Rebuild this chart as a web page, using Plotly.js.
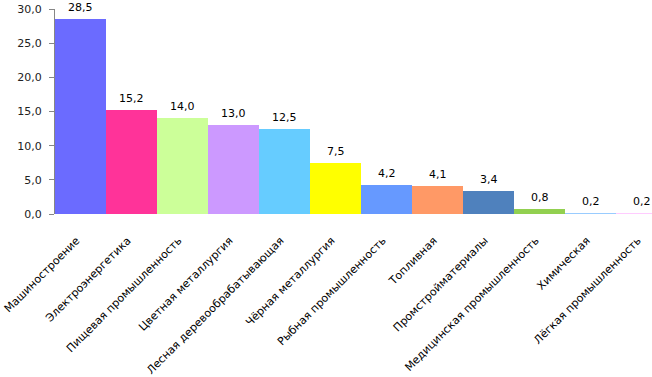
<!DOCTYPE html>
<html><head><meta charset="utf-8">
<script src="https://cdn.plot.ly/plotly-3.0.1.min.js"></script>
<style>html,body{margin:0;padding:0;overflow:hidden;background:#fff}</style>
</head><body>
<div id="chart" style="width:652px;height:377px"></div>
<script>
const categories = ["Машиностроение","Электроэнергетика","Пищевая промышленность","Цветная металлургия","Лесная деревообрабатывающая","Чёрная металлургия","Рыбная промышленность","Топливная","Промстройматериалы","Медицинская промышленность","Химическая","Лёгкая промышленность"];
const values = [28.5,15.2,14.0,13.0,12.5,7.5,4.2,4.1,3.4,0.8,0.2,0.2];
const colors = ["#6B6BFF","#FF3399","#CCFF99","#CC99FF","#66CCFF","#FFFF00","#6699FF","#FF9966","#4F81BD","#92D050","#99CCFF","#FFCCFF"];
const yTicks = [0,5,10,15,20,25,30];

const annotations = categories.map((c,i)=>({
  x:c, y:values[i], xref:'x', yref:'y', text:values[i].toFixed(1).replace('.',','),
  showarrow:false, yanchor:'bottom', yshift:4, borderpad:0,
  font:{family:'DejaVu Sans', size:11, color:'#000'}
}));

Plotly.newPlot('chart', [{
  type:'bar', x: categories, y: values,
  marker:{color: colors, line:{width:0}},
  hoverinfo:'none'
}], {
  width:652, height:377, separators:',.',
  margin:{l:55, r:0, t:9, b:163},
  bargap:0, showlegend:false,
  paper_bgcolor:'#fff', plot_bgcolor:'#fff',
  font:{family:'DejaVu Sans', size:10, color:'#000'},
  annotations: annotations,
  xaxis:{type:'category', range:[-0.5,11.2], tickangle:-45, showline:false, ticks:'', showgrid:false, zeroline:false,
    ticklabelstandoff:17, ticklabelshift:-4,
    tickfont:{family:'DejaVu Sans', size:11, color:'#000'}},
  yaxis:{range:[0,30], tickvals:yTicks, tickformat:'.1f', showline:true, linecolor:'#868686', linewidth:1,
    ticks:'outside', ticklen:5, tickcolor:'#868686', showgrid:false, zeroline:false, ticklabelstandoff:5,
    tickfont:{family:'DejaVu Sans', size:11, color:'#222'}}
}, {staticPlot:true});
</script>
</body></html>
